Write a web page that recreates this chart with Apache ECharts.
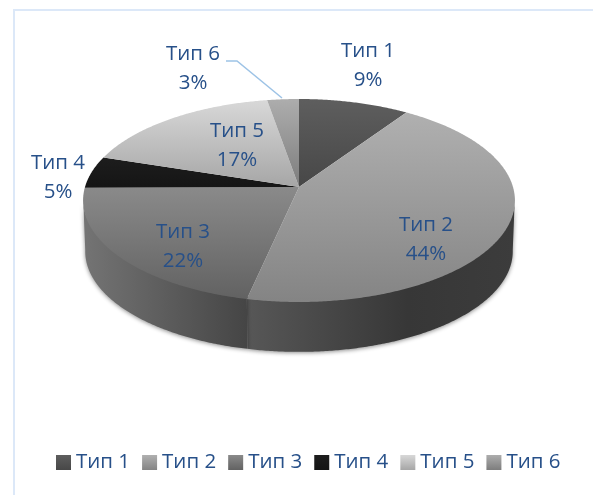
<!DOCTYPE html>
<html lang="ru" style="height: 100%">
<head>
    <meta charset="utf-8">
</head>
<body style="height: 100%; margin: 0; background: #fff">
<div id="container" style="width: 593px; height: 495px"></div>

<script type="text/javascript" src="https://fastly.jsdelivr.net/npm/echarts@6/dist/echarts.min.js"></script>
<script type="text/javascript">
    var categories = ['Тип 1', 'Тип 2', 'Тип 3', 'Тип 4', 'Тип 5', 'Тип 6'];
    // shares, the labels show them rounded
    var values = [9.4, 44.0, 21.5, 5.1, 17.3, 2.7];

    // top face gradients, light to dark
    var topColors = [
        ['#5e5e5e', '#474747'],
        ['#b0b0b0', '#848484'],
        ['#8a8a8a', '#626262'],
        ['#1d1d1d', '#151515'],
        ['#d8d8d8', '#a6a6a6'],
        ['#adadad', '#7d7d7d']
    ];
    // side wall gradients, left to right
    var sideColors = {
        1: ['#575757', '#373737', '#3c3c3c'],
        2: ['#747474', '#585858', '#454545']
    };
    // label centres, placed by hand like in the source chart
    var labelPos = [[368, 66], [426, 240], [183, 247], [58, 178], [237, 146], [193, 69]];
    var leaderLine = [[226, 61], [237, 61], [282, 98]];

    var textColor = '#275089';
    var fontFamily = '"Open Sans", "Noto Sans", sans-serif';

    // tilted circle with perspective
    var CX = 299, CY = 187, RX = 214, RY = 99.7, K = 0.133, DEPTH = 51;

    function project(deg, lower) {
        var a = deg * Math.PI / 180;
        var u = Math.sin(a), v = -Math.cos(a);
        var d = 1 - K * v;
        var s = lower ? 0.99 : 1;
        return [CX + RX * s * u / d, CY + RY * s * v / d + (lower ? DEPTH : 0)];
    }

    function arc(from, to, lower) {
        var pts = [];
        var n = Math.max(2, Math.ceil(Math.abs(to - from) * 2));
        for (var i = 0; i <= n; i++) {
            pts.push(project(from + (to - from) * i / n, lower));
        }
        return pts;
    }

    function vGradient(c) {
        return new echarts.graphic.LinearGradient(0, 0, 0, 1, [
            {offset: 0, color: c[0]},
            {offset: 1, color: c[1]}
        ]);
    }

    function hGradient(c) {
        return new echarts.graphic.LinearGradient(0, 0, 1, 0, [
            {offset: 0, color: c[0]},
            {offset: 0.6, color: c[1]},
            {offset: 1, color: c[2]}
        ]);
    }

    var total = values.reduce(function (a, b) { return a + b; }, 0);

    function makeRenderItem(idx) {
        var before = values.slice(0, idx).reduce(function (a, b) { return a + b; }, 0);
        return function (params, api) {
            var start = before / total * 360;
            var end = start + api.value(0) / total * 360;
            var children = [];

            // wall, only the part that faces the viewer
            var wallFrom = Math.max(start, 97), wallTo = Math.min(end, 263);
            if (wallFrom < wallTo) {
                // upper edge pushed under the top face so no seam shows
                var upper = arc(wallFrom, wallTo, false).map(function (p) { return [p[0], p[1] - 2]; });
                children.push({
                    type: 'polygon',
                    z2: 1,
                    shape: {points: upper.concat(arc(wallTo, wallFrom, true))},
                    style: {
                        fill: hGradient(sideColors[idx] || ['#444', '#444', '#444']),
                        shadowBlur: 4,
                        shadowColor: 'rgba(0,0,0,0.45)',
                        shadowOffsetY: 1
                    }
                });
            }

            children.push({
                type: 'polygon',
                z2: 2,
                shape: {points: [[CX, CY]].concat(arc(start, end, false))},
                style: {fill: vGradient(topColors[idx])}
            });

            children.push({
                type: 'text',
                z2: 5,
                style: {
                    text: categories[idx] + '\n' + Math.round(api.value(0)) + '%',
                    x: labelPos[idx][0],
                    y: labelPos[idx][1],
                    align: 'center',
                    verticalAlign: 'middle',
                    lineHeight: 29,
                    font: '20.5px ' + fontFamily,
                    fill: textColor
                }
            });

            if (idx === 5) {
                children.push({
                    type: 'polyline',
                    z2: 4,
                    shape: {points: leaderLine},
                    style: {stroke: '#9dc3e6', lineWidth: 1.5, fill: null}
                });
            }
            return {type: 'group', children: children};
        };
    }

    var seriesList = categories.map(function (name, i) {
        return {
            type: 'custom',
            name: name,
            coordinateSystem: 'none',
            silent: true,
            animation: false,
            itemStyle: {color: vGradient(topColors[i])},
            data: [[values[i]]],
            renderItem: makeRenderItem(i)
        };
    });

    var myChart = echarts.init(document.getElementById('container'), null, {renderer: 'canvas'});

    myChart.setOption({
        animation: false,
        backgroundColor: '#fff',
        legend: {
            data: categories,
            left: 51,
            top: 447,
            icon: 'rect',
            itemWidth: 15,
            itemHeight: 15,
            itemGap: 12,
            selectedMode: false,
            textStyle: {color: textColor, fontSize: 20.5, fontFamily: fontFamily}
        },
        graphic: [{
            type: 'polyline',
            silent: true,
            shape: {points: [[14, 495], [14, 10], [593, 10]]},
            style: {stroke: '#dce8f8', lineWidth: 2, fill: null}
        }],
        series: seriesList
    });

    window.addEventListener('resize', myChart.resize);
</script>
</body>
</html>
